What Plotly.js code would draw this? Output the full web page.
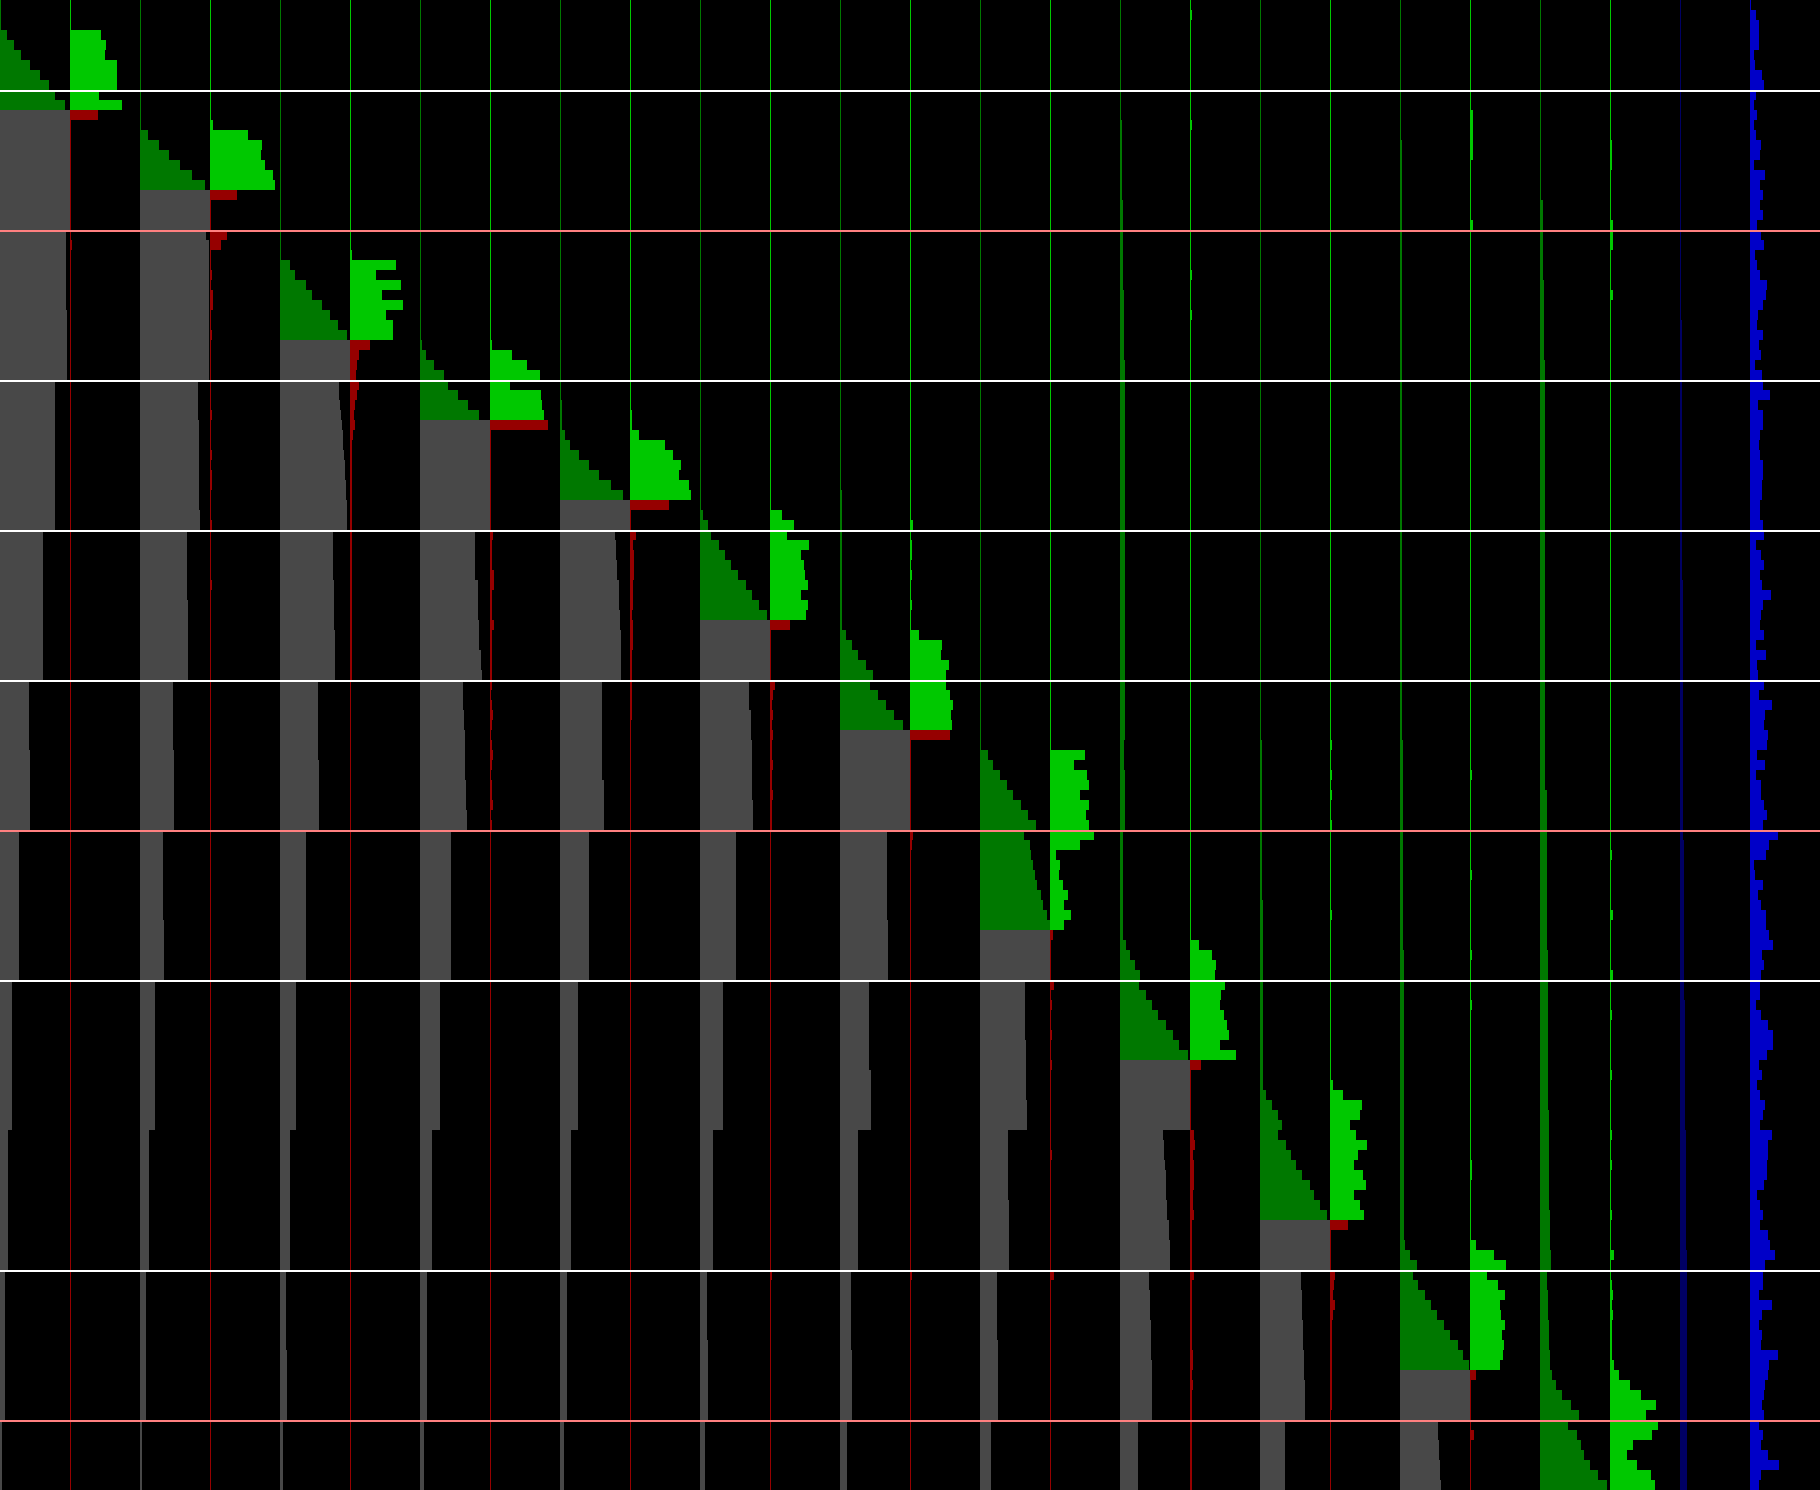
<!DOCTYPE html>
<html><head><meta charset="utf-8">
<script src="https://cdn.plot.ly/plotly-3.0.1.min.js"></script>
<style>html,body{margin:0;padding:0;background:#000;overflow:hidden}#chart{width:1820px;height:1490px;}</style>
</head><body><div id="chart"></div>
<script>
// Rows (0..148) and columns (0..25). A bare number is one row; [v, n] is v repeated for n rows.
const ROWS = 149;
const COL_W = 70;
const births = [11, 19, 34, 42, 50, 62, 73, 93, 106, 122, 137, 149];
const whiteLineRows = [9, 38, 53, 68, 98, 127];
const salmonLineRows = [23, 83, 142];

const col0 = [[1,3],7,14,21,30,40,49,55,65,[70,12],[66,8],[67,7],[55,15],[43,15],[29,7],[30,8],[19,15],[12,15],[8,14],[5,15],[2,7]];
const col1 = [[1,3],31,36,35,47,47,47,29,52,28,[1,12],2,[1,124]];
const col2 = [[1,13],8,19,29,40,52,65,[70,4],66,[69,14],[58,4],[59,9],[60,2],[47,7],[48,8],[33,7],[34,8],[23,9],[24,6],[15,15],[9,14],[6,15],[2,7]];
const col3 = [[1,12],3,38,52,51,55,63,65,27,[1,3],17,11,1,1,2,1,3,3,1,1,2,[1,7],2,[1,3],2,1,2,2,[1,3],2,[1,5],2,[1,90]];
const col4 = [[1,26],10,15,26,32,42,50,58,67,[70,4],59,59,60,61,62,63,63,64,65,65,66,66,67,67,67,[53,5],[54,5],[55,5],[38,8],[39,7],[26,15],[16,15],[10,14],[6,8],[7,7],[3,7]];
const col5 = [[1,25],2,46,26,51,32,53,36,43,43,20,9,7,6,9,7,5,4,5,3,[2,24],[1,81]];
const col6 = [[1,34],2,6,14,24,28,38,48,59,[70,11],[55,5],[58,4],[59,3],[61,2],62,[43,3],[44,2],[45,5],[46,3],[47,2],[31,15],[20,15],[12,14],[7,15],[4,7]];
const col7 = [[1,34],2,22,37,50,20,51,52,54,58,[1,10],3,2,2,2,4,4,2,2,2,4,[2,5],2,1,2,3,2,1,2,3,2,1,2,2,3,1,2,[1,66]];
const col8 = [[1,40],2,2,2,5,10,19,29,39,51,63,[70,3],55,56,56,57,57,[59,3],[60,2],[61,5],[42,10],[44,5],[29,15],[18,15],[11,14],[7,15],[4,7]];
const col9 = [[1,41],2,2,9,35,43,51,49,59,61,39,1,1,6,3,4,4,4,3,3,3,2,3,3,3,2,2,2,[2,4],[1,77]];
const col10 = [[1,51],3,8,11,19,25,31,38,46,52,59,67,[70,6],[49,3],[51,3],[52,6],[53,3],[36,15],[23,15],[13,14],[7,7],[8,8],[5,7]];
const col11 = [[1,51],12,24,17,39,31,34,35,38,31,38,36,20,[1,5],5,3,2,3,2,3,2,2,3,2,2,3,2,2,2,[1,44],2,[1,21]];
const col12 = [[1,49],[2,14],6,12,18,26,33,30,38,46,54,63,[70,10],[47,9],[48,6],[29,9],[31,6],[18,14],[11,8],[12,7],[7,7]];
const col13 = [[1,52],3,1,2,2,1,2,1,1,2,1,1,9,32,31,39,36,36,40,43,41,42,40,[1,9],3,2,[1,42],2,[1,21]];
const col14 = [[1,75],8,13,20,27,33,41,48,56,44,50,51,53,55,57,61,63,67,70,[70,5],[45,6],[46,6],[47,3],[28,7],[29,7],[17,7],[18,8],[11,7]];
const col15 = [[1,75],35,24,37,39,30,39,36,39,44,30,6,10,9,13,18,14,21,14,3,[1,4],4,1,2,1,1,2,1,1,2,[1,8],2,[1,11],4,[1,21]];
const col16 = [[1,12],[2,8],[3,9],[4,7],[5,38],[4,3],[5,6],[2.5,11],6,10,15,20,19,26,32,38,46,53,59,68,[70,7],43,44,44,45,46,46,46,47,47,49,49,50,50,50,29,29,30,30,30,31,31,31,31,32,32,32,32,32,32,[18,7]];
const col17 = [1,2,[1,10],2,[1,14],2,[1,3],2,[1,62],9,22,26,25,35,31,30,34,37,39,30,46,11,[1,6],4,5,3,4,4,4,3,3,4,[2,5],4,[2,7],3,3,2,3,[2,10]];
const col18 = [[1,74],[1.5,8],[2,8],[3,19],6,12,18,22,18,26,31,36,42,50,54,60,67,[70,5],41,41,42,42,42,43,43,43,44,44,44,45,45,45,45,[25,7]];
const col19 = [[1,74],2,1,1,2,1,2,1,1,2,[1,8],2,[1,16],3,13,32,30,20,26,37,28,24,33,36,24,30,34,18,[1,4],5,4,3,5,3,[2,9],[1,8]];
const col20 = [[1,14],[1.5,47],[2,13],[2.5,9],[3,12],[4,29],5,10,17,13,18,25,31,37,44,50,58,63,69,[70,5],38,38,39,39,40,40,41];
const col21 = [[1,11],[2.5,5],[1,6],2.5,[1,54],2,[1,9],2,[1,7],2,[1,4],2,[1,15],2,2,[1,6],6,24,36,17,28,35,30,31,35,32,34,33,30,6,[1,5],4,[1,5]];
const col22 = [[0.5,15],[1,5],[3,8],[3.5,8],[5,43],[6.5,9],[7,7],[8,16],[9,10],[10,4],11,11,7,7,8,8,8,9,9,9,10,10,12,16,22,31,39,28,37,41,44,50,58,67];
const col23 = [[1,14],2,2,2,[1,5],3,3,3,[1,4],3,[1,55],2,[1,5],3,[1,5],3,[1,3],2,[1,5],2,[1,5],2,[1,2],2,[1,4],2,[1,3],4,1,1,2,3,2,3,2,2,2,2,4,9,20,31,46,36,48,42,23,17,27,41,45];
const col24 = [[1,32],[2,26],[3,26],[4,16],[5,13],[6,12],[7,24]];
const col25 = [1,6,9,9,9,4,5,12,14,6,4,7,4,6,11,10,4,15,10,13,10,13,7,11,14,5,7,10,17,16,13,8,7,13,9,11,5,12,13,20,
  8,13,13,10,9,10,13,13,12,12,10,10,13,14,6,11,14,10,12,21,13,11,10,14,6,16,7,8,14,9,22,15,14,18,17,7,15,6,11,11,14,17,13,
  28,19,16,4,5,13,8,11,16,16,19,23,12,14,11,10,10,6,11,18,23,23,17,9,12,7,10,15,13,10,22,18,18,17,17,14,7,10,13,10,18,20,25,
  15,13,13,9,22,12,9,12,11,28,19,18,15,14,12,14,9,13,11,18,29,11,9];

const columns = [col0,col1,col2,col3,col4,col5,col6,col7,col8,col9,col10,col11,col12,col13,col14,col15,col16,col17,col18,col19,col20,col21,col22,col23,col24,col25];

const DG = '#007800', BG = '#00c800', GR = '#484848', RD = '#960000', NV = '#000064', BL = '#0000c8';

function expand(spec) {
  const out = [];
  spec.forEach(s => {
    if (Array.isArray(s)) { for (let i = 0; i < s[1]; i++) out.push(s[0]); }
    else out.push(s);
  });
  return out;
}

const rowIdx = [];
for (let r = 0; r < ROWS; r++) rowIdx.push(r);

const traces = columns.map((spec, c) => {
  const vals = expand(spec).slice(0, ROWS);
  const colors = rowIdx.map(r => {
    if (c === 24) return NV;
    if (c === 25) return BL;
    const k = Math.floor(c / 2);
    const pre = r < births[k];
    if (c % 2 === 0) return pre ? DG : GR;
    return pre ? BG : RD;
  });
  return {
    type: 'bar', orientation: 'h',
    y: rowIdx.slice(0, vals.length), x: vals, base: c * COL_W,
    width: 1,
    marker: { color: colors, line: { width: 0 } },
    hoverinfo: 'skip', showlegend: false
  };
});

const shapes = [];
whiteLineRows.forEach(r => shapes.push({ type: 'line', xref: 'paper', x0: 0, x1: 1, yref: 'y', y0: r - 0.4, y1: r - 0.4, line: { color: '#ffffff', width: 2 } }));
salmonLineRows.forEach(r => shapes.push({ type: 'line', xref: 'paper', x0: 0, x1: 1, yref: 'y', y0: r - 0.4, y1: r - 0.4, line: { color: '#ff8080', width: 2 } }));

const layout = {
  width: 1820, height: 1490,
  margin: { l: 0, r: 0, t: 0, b: 0, pad: 0 },
  paper_bgcolor: '#000000', plot_bgcolor: '#000000',
  barmode: 'overlay', bargap: 0,
  xaxis: { range: [0, columns.length * COL_W], visible: false, showgrid: false, zeroline: false },
  yaxis: { range: [ROWS - 0.5, -0.5], visible: false, showgrid: false, zeroline: false },
  shapes: shapes,
  showlegend: false
};

Plotly.newPlot('chart', traces, layout, { staticPlot: true, displayModeBar: false });
</script>
</body></html>
